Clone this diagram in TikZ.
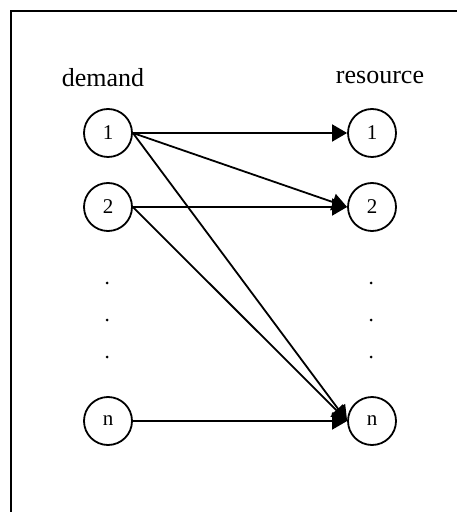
\documentclass[tikz,border=0pt]{standalone}
\usepackage{fontspec}
\setmainfont{Liberation Serif}
\usetikzlibrary{arrows.meta,positioning}

\begin{document}
\begin{tikzpicture}[x=0.5pt,y=-0.5pt]

\tikzset{vertex/.style={draw,circle,line width=0.9pt,minimum size=24pt,inner sep=0pt,font=\fontsize{10.5}{12}\selectfont},
  link/.style={line width=0.9pt,-{Triangle[length=7.5pt,width=8.5pt]}},
  heading/.style={font=\fontsize{13}{15}\selectfont}}

\useasboundingbox (0,0) rectangle (457,512);

% frame
\draw[line width=1pt] (11,512) -- (11,11) -- (457,11);

\node[heading] (dem) at (103,78) {demand};
\node[heading] (res) at (380,78) {resource};

\node[vertex] (d1) at (108,133) {1};
\node[vertex] (d2) at (108,207) {2};
\node[vertex] (dn) at (108,421) {n};

\node[vertex] (r1) at (372,133) {1};
\node[vertex] (r2) at (372,207) {2};
\node[vertex] (rn) at (372,421) {n};

% dots
\foreach \y in {283,320,357} {
  \fill (107,\y) circle (1.5);
  \fill (371,\y) circle (1.5);
}

\draw[link] (d1.east) -- (r1.west);
\draw[link] (d1.east) -- (r2.west);
\draw[link] (d1.east) -- (rn.west);
\draw[link] (d2.east) -- (r2.west);
\draw[link] (d2.east) -- (rn.west);
\draw[link] (dn.east) -- (rn.west);

\end{tikzpicture}
\end{document}
